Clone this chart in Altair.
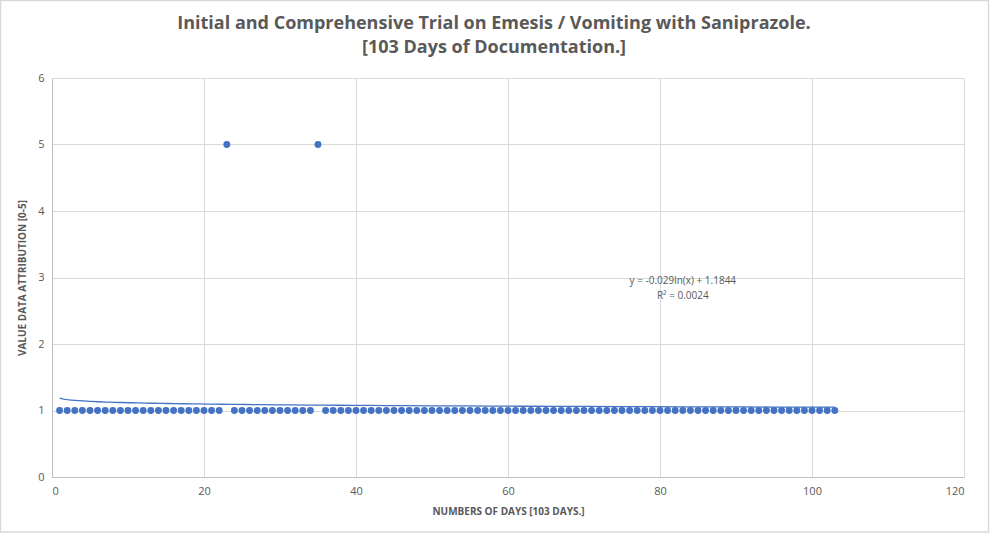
import altair as alt
import pandas as pd

days = list(range(1, 104))
values = [1, 1, 1, 1, 1, 1, 1, 1, 1, 1,
          1, 1, 1, 1, 1, 1, 1, 1, 1, 1,
          1, 1, 5, 1, 1, 1, 1, 1, 1, 1,
          1, 1, 1, 1, 5, 1, 1, 1, 1, 1,
          1, 1, 1, 1, 1, 1, 1, 1, 1, 1,
          1, 1, 1, 1, 1, 1, 1, 1, 1, 1,
          1, 1, 1, 1, 1, 1, 1, 1, 1, 1,
          1, 1, 1, 1, 1, 1, 1, 1, 1, 1,
          1, 1, 1, 1, 1, 1, 1, 1, 1, 1,
          1, 1, 1, 1, 1, 1, 1, 1, 1, 1,
          1, 1, 1]

title_lines = ["Initial and Comprehensive Trial on Emesis / Vomiting with Saniprazole.",
               "[103 Days of Documentation.]"]

eq_lines = ["y = -0.029ln(x) + 1.1844", "R² = 0.0024"]
eq_x = [83, 83]
eq_y = [2.95, 2.72]

df = pd.DataFrame({"day": days, "value": values})
ann = pd.DataFrame({"t": eq_lines, "x": eq_x, "y": eq_y})

BLUE = "#4472C4"
GREY = "#595959"
FONT = "Open Sans"

xs = alt.Scale(domain=[0, 120], nice=False)
ys = alt.Scale(domain=[0, 6], nice=False)

base = alt.Chart(df)

frame = alt.Chart(pd.DataFrame({"a": [0]})).mark_rect(
    fill="transparent", stroke="#d9d9d9", strokeWidth=1.5
).encode(
    x=alt.value(-51.5), x2=alt.value(936.5), y=alt.value(-77.5), y2=alt.value(454)
)

t1 = alt.Chart(pd.DataFrame({"t": [title_lines[0]]})).mark_text(
    font=FONT, fontSize=18, fontWeight="bold", color=GREY, align="center", baseline="middle"
).encode(x=alt.value(442), y=alt.value(-54), text="t:N")
t2 = alt.Chart(pd.DataFrame({"t": [title_lines[1]]})).mark_text(
    font=FONT, fontSize=18, fontWeight="bold", color=GREY, align="center", baseline="middle"
).encode(x=alt.value(442), y=alt.value(-30), text="t:N")

points = base.mark_circle(size=48, color=BLUE, opacity=1).encode(
    x=alt.X("day:Q", scale=xs,
            axis=alt.Axis(values=[0, 20, 40, 60, 80, 100, 120], format="d",
                          title="NUMBERS OF DAYS [103 DAYS.]")),
    y=alt.Y("value:Q", scale=ys,
            axis=alt.Axis(values=[0, 1, 2, 3, 4, 5, 6], format="d",
                          title="VALUE DATA ATTRIBUTION [0-5]")),
)

trend = base.transform_regression(
    "day", "value", method="log", extent=[1, 103]
).mark_line(color=BLUE, strokeWidth=1.3).encode(
    x=alt.X("day:Q", scale=xs), y=alt.Y("value:Q", scale=ys)
)

labels = alt.Chart(ann).mark_text(
    font=FONT, fontSize=10, color=GREY, align="center"
).encode(
    x=alt.X("x:Q", scale=xs), y=alt.Y("y:Q", scale=ys), text="t:N"
)

chart = alt.layer(frame, t1, t2, points, trend, labels).properties(
    width=912,
    height=399,
    padding={"left": 52, "top": 78, "right": 32, "bottom": 60},
    autosize=alt.AutoSizeParams(type="none"),
).configure_view(stroke=None, clip=False).configure_axis(
    labelFont=FONT, labelFontSize=11, labelColor=GREY,
    titleFont=FONT, titleFontSize=10, titleFontWeight="bold", titleColor=GREY,
    gridColor="#d9d9d9", gridWidth=1, domainColor="#bfbfbf", ticks=False,
    labelPadding=8,
).configure_axisX(titlePadding=10).configure_axisY(titlePadding=10)

chart.save("out.html", embed_options={"renderer": "svg", "actions": False})
